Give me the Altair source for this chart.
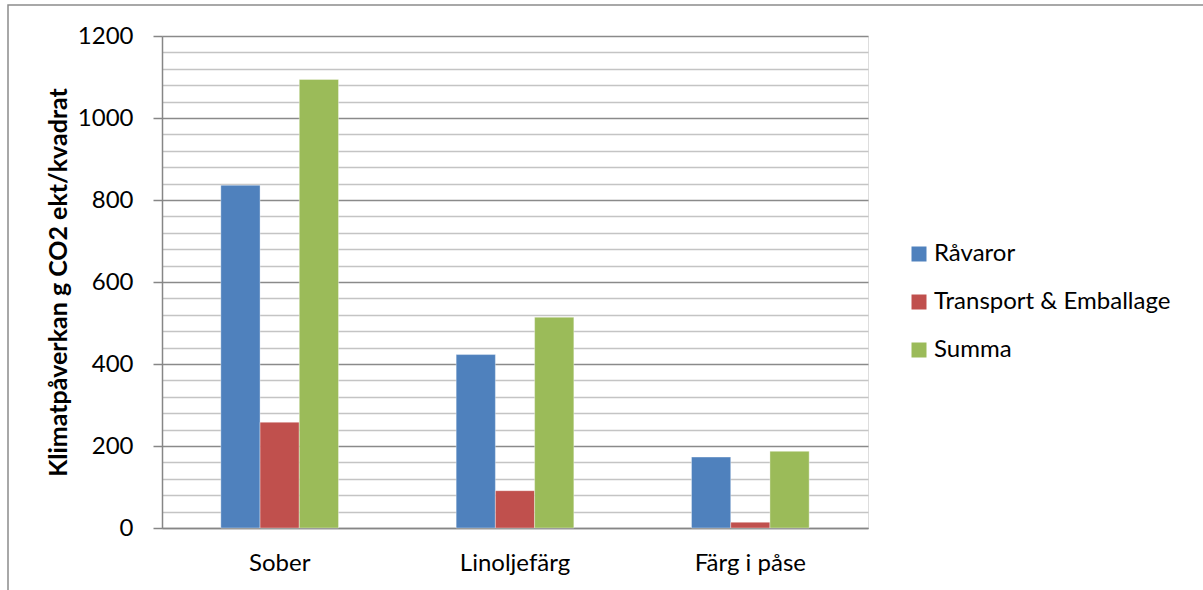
import altair as alt
import pandas as pd

categories = ["Sober", "Linoljefärg", "Färg i påse"]
series = ["Råvaror", "Transport & Emballage", "Summa"]
ravaror = [836, 423, 173]
transport = [258, 91, 14]
summa = [1094, 514, 187]
colors = ["#4F81BD", "#C0504D", "#9BBB59"]
y_ticks = list(range(0, 1201, 40))

rows = []
for i, c in enumerate(categories):
    for s, vals in zip(series, [ravaror, transport, summa]):
        rows.append({"cat": c, "series": s, "value": vals[i]})
df = pd.DataFrame(rows)

FONT = "Lato"
FS = 24

frame = alt.Chart(pd.DataFrame({"a": [0]})).mark_rect(
    fill=None, stroke="#8c8c8c", strokeWidth=1.5
).encode(
    x=alt.value(-154), x2=alt.value(1100), y=alt.value(-31), y2=alt.value(700)
)

bars = alt.Chart(df).mark_bar(stroke="#ffffff", strokeWidth=0.6, strokeOpacity=0.6).encode(
    x=alt.X("cat:N", sort=categories,
            scale=alt.Scale(paddingInner=0.5, paddingOuter=0.25),
            axis=alt.Axis(title=None, labelAngle=0, ticks=False, labelPadding=23,
                          labelFontSize=FS, labelColor="#000000", domainColor="#868686",
                          domainWidth=1.5, labelFont=FONT)),
    xOffset=alt.XOffset("series:N", sort=series, scale=alt.Scale(paddingInner=0, paddingOuter=0)),
    y=alt.Y("value:Q", scale=alt.Scale(domain=[0, 1200], nice=False),
            axis=alt.Axis(title="Klimatpåverkan g CO2 ekt/kvadrat", values=y_ticks,
                          format="d",
                          labelExpr="datum.value % 200 === 0 ? datum.label : ''",
                          grid=True,
                          gridColor={"condition": {"test": "datum.value % 200 === 0", "value": "#8a8a8a"}, "value": "#c4c4c4"},
                          gridWidth=1.5,
                          tickSize=9, tickWidth=1.5, tickColor="#868686",
                          tickOpacity={"condition": {"test": "datum.value % 200 === 0", "value": 1}, "value": 0},
                          domainColor="#868686", domainWidth=1.5,
                          labelFontSize=FS, labelColor="#000000", labelPadding=20,
                          labelFont=FONT,
                          titleFont=FONT, titleFontSize=25, titleFontWeight="bold",
                          titleColor="#000000", titlePadding=6)),
    color=alt.Color("series:N", sort=series,
                    scale=alt.Scale(domain=series, range=colors),
                    legend=alt.Legend(title=None, orient="none", legendX=745, legendY=206,
                                      symbolType="square", symbolSize=225, symbolStrokeWidth=0,
                                      labelFontSize=FS, labelFont=FONT, labelColor="#000000",
                                      labelLimit=0, rowPadding=24, labelOffset=3)),
)

chart = alt.layer(frame, bars).properties(
    width=706, height=492,
    autosize=alt.AutoSizeParams(type="none"),
    padding={"left": 162, "top": 36, "right": 335, "bottom": 62},
).configure_view(stroke=None).configure(background="#ffffff")

chart.save("out.html", embed_options={"renderer": "svg", "actions": False})
